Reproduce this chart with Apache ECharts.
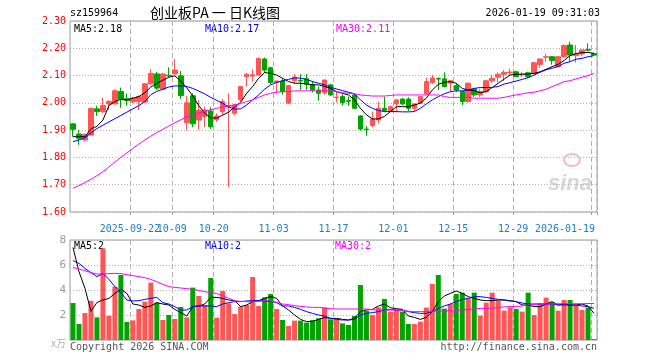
<!DOCTYPE html>
<html><head><meta charset="utf-8">
<script src="https://cdn.jsdelivr.net/npm/echarts@6/dist/echarts.min.js"></script>
<style>html,body{margin:0;padding:0;background:#fff}#c{width:660px;height:360px}</style>
</head><body><div id="c"></div>
<script>
const dates = [
'2025-09-08','2025-09-09','2025-09-10','2025-09-11','2025-09-12','2025-09-15','2025-09-16','2025-09-17','2025-09-18','2025-09-19',
'2025-09-22','2025-09-23','2025-09-24','2025-09-25','2025-09-26','2025-09-29','2025-09-30','2025-10-09','2025-10-10','2025-10-13',
'2025-10-14','2025-10-15','2025-10-16','2025-10-17','2025-10-20','2025-10-21','2025-10-22','2025-10-23','2025-10-24','2025-10-27',
'2025-10-28','2025-10-29','2025-10-30','2025-10-31','2025-11-03','2025-11-04','2025-11-05','2025-11-06','2025-11-07','2025-11-10',
'2025-11-11','2025-11-12','2025-11-13','2025-11-14','2025-11-17','2025-11-18','2025-11-19','2025-11-20','2025-11-21','2025-11-24',
'2025-11-25','2025-11-26','2025-11-27','2025-11-28','2025-12-01','2025-12-02','2025-12-03','2025-12-04','2025-12-05','2025-12-08',
'2025-12-09','2025-12-10','2025-12-11','2025-12-12','2025-12-15','2025-12-16','2025-12-17','2025-12-18','2025-12-19','2025-12-22',
'2025-12-23','2025-12-24','2025-12-25','2025-12-26','2025-12-29','2025-12-30','2025-12-31','2026-01-05','2026-01-06','2026-01-07',
'2026-01-08','2026-01-09','2026-01-12','2026-01-13','2026-01-14','2026-01-15','2026-01-16','2026-01-19'];

const tickDates = ['2025-09-22','2025-10-09','2025-10-20','2025-11-03','2025-11-17','2025-12-01','2025-12-15','2025-12-29','2026-01-19'];

const opens = [1.923,1.886,1.864,1.882,1.978,1.968,1.996,1.996,2.042,2.015,
2.004,2.005,2.003,2.070,2.106,2.050,2.101,2.106,2.099,1.927,
2.026,1.937,1.950,1.970,1.938,1.968,1.986,1.962,2.011,2.096,
2.098,2.102,2.161,2.129,2.074,2.080,1.999,2.081,2.082,2.088,
2.068,2.047,2.037,2.066,2.019,2.023,2.008,2.029,1.952,1.904,
1.917,1.937,1.980,1.972,1.996,2.014,2.014,1.980,1.999,2.033,
2.074,2.089,2.088,2.072,2.063,2.041,2.005,2.051,2.029,2.041,
2.081,2.094,2.105,2.111,2.114,2.103,2.110,2.108,2.141,2.167,
2.169,2.133,2.169,2.212,2.173,2.179,2.195,2.181];

const closes = [1.903,1.870,1.884,1.980,1.968,1.990,2.005,2.044,2.014,2.008,
2.017,2.023,2.070,2.108,2.054,2.106,2.099,2.120,2.027,2.000,
1.923,1.972,1.974,1.912,1.952,2.005,1.990,1.992,2.060,2.105,
2.103,2.163,2.120,2.075,2.080,2.041,2.063,2.094,2.080,2.068,
2.047,2.035,2.084,2.029,2.021,2.001,2.006,1.980,1.904,1.902,
1.941,1.980,1.972,1.986,2.011,1.996,1.980,1.996,2.023,2.078,
2.091,2.087,2.060,2.081,2.047,2.005,2.072,2.029,2.041,2.081,
2.090,2.105,2.112,2.113,2.096,2.105,2.096,2.147,2.161,2.169,
2.155,2.169,2.210,2.175,2.179,2.194,2.193,2.175];

const lows = [1.876,1.846,1.858,1.880,1.952,1.962,1.974,1.994,1.982,1.989,
1.998,1.974,2.000,2.066,2.047,2.048,2.094,2.104,2.014,1.900,
1.911,1.900,1.911,1.904,1.930,1.956,1.691,1.955,2.005,2.060,
2.078,2.100,2.110,2.068,2.035,2.030,1.996,2.070,2.047,2.047,
2.038,2.008,2.030,2.025,2.001,1.990,1.989,1.978,1.898,1.879,
1.910,1.925,1.966,1.966,1.965,1.992,1.970,1.970,1.996,2.029,
2.069,2.047,2.056,2.041,2.040,1.992,2.000,2.022,2.022,2.038,
2.072,2.075,2.080,2.100,2.094,2.094,2.092,2.104,2.128,2.150,
2.140,2.130,2.166,2.151,2.148,2.170,2.188,2.173];

const highs = [1.925,1.900,1.888,1.982,1.989,2.019,2.010,2.050,2.056,2.033,
2.022,2.027,2.072,2.124,2.114,2.110,2.130,2.161,2.117,2.025,
2.035,2.010,1.986,1.985,1.962,2.014,2.035,1.995,2.062,2.110,
2.123,2.166,2.166,2.132,2.082,2.090,2.066,2.105,2.105,2.105,
2.080,2.060,2.084,2.070,2.041,2.032,2.023,2.035,1.955,1.915,
1.968,2.005,2.023,1.990,2.011,2.018,2.020,1.998,2.025,2.092,
2.102,2.094,2.112,2.084,2.070,2.045,2.075,2.055,2.050,2.084,
2.102,2.112,2.120,2.125,2.118,2.114,2.114,2.150,2.163,2.180,
2.172,2.172,2.215,2.224,2.212,2.196,2.218,2.184];

const ma5 = [1.876,1.876,1.876,1.905,1.914,1.937,1.990,2.005,2.013,2.011,
2.017,2.023,2.037,2.058,2.072,2.083,2.094,2.099,2.080,2.055,
2.025,1.990,1.962,1.946,1.944,1.955,1.966,1.985,2.002,2.035,
2.060,2.090,2.111,2.108,2.102,2.090,2.078,2.072,2.072,2.069,
2.066,2.066,2.060,2.053,2.041,2.035,2.029,2.011,1.980,1.956,
1.941,1.941,1.950,1.968,1.986,1.986,1.986,1.992,1.999,2.017,
2.047,2.068,2.075,2.078,2.072,2.053,2.047,2.045,2.037,2.041,
2.056,2.072,2.087,2.102,2.105,2.105,2.106,2.108,2.114,2.123,
2.133,2.141,2.155,2.173,2.181,2.184,2.185,2.181];

const ma10 = [1.858,1.864,1.872,1.890,1.906,1.918,1.930,1.942,1.954,1.966,
1.978,1.990,2.005,2.030,2.042,2.050,2.058,2.062,2.062,2.060,
2.053,2.043,2.033,2.020,2.009,1.998,1.985,1.977,1.978,1.992,
2.011,2.029,2.050,2.066,2.075,2.081,2.086,2.092,2.090,2.086,
2.078,2.072,2.066,2.057,2.051,2.045,2.039,2.033,2.011,1.992,
1.980,1.972,1.968,1.968,1.968,1.967,1.967,1.968,1.980,1.996,
2.011,2.023,2.033,2.041,2.044,2.044,2.047,2.053,2.056,2.056,
2.057,2.060,2.069,2.074,2.080,2.086,2.092,2.102,2.112,2.121,
2.127,2.133,2.145,2.151,2.160,2.163,2.169,2.173];

const ma30 = [1.687,1.697,1.708,1.720,1.733,1.748,1.765,1.783,1.800,1.817,
1.833,1.849,1.864,1.878,1.891,1.903,1.915,1.927,1.938,1.948,
1.956,1.963,1.969,1.975,1.980,1.985,1.989,1.993,1.997,2.005,
2.011,2.020,2.029,2.035,2.039,2.041,2.041,2.044,2.044,2.044,
2.044,2.044,2.044,2.044,2.041,2.037,2.035,2.033,2.029,2.027,
2.025,2.025,2.025,2.027,2.029,2.029,2.029,2.029,2.029,2.029,
2.029,2.029,2.023,2.020,2.020,2.020,2.020,2.017,2.017,2.017,
2.017,2.017,2.020,2.025,2.029,2.033,2.037,2.039,2.044,2.050,
2.060,2.068,2.078,2.081,2.088,2.094,2.100,2.108];

const volumes = [2.96,1.28,2.16,3.13,1.81,7.33,1.93,4.27,5.2,1.45,
1.57,2.48,3.07,4.59,2.99,1.6,2.0,1.68,2.64,1.81,
4.19,3.52,2.8,4.96,1.79,3.92,2.93,2.08,2.67,2.8,
5.04,2.72,3.41,3.68,2.48,1.6,1.12,1.55,1.55,1.39,
1.6,1.73,2.61,1.65,1.65,1.33,1.2,1.92,4.4,2.32,
2.0,2.61,3.28,2.27,2.4,2.27,1.28,1.28,1.47,2.59,
4.48,5.2,2.51,2.88,3.68,3.79,3.33,3.79,1.95,2.99,
3.79,3.15,2.35,2.61,2.48,2.27,3.79,2.0,2.93,3.39,
3.01,2.35,3.2,3.2,2.75,2.4,2.59,0.06];

const volMa5 = [7.4,5.47,4.13,2.3,3.0,3.2,3.33,3.73,4.05,3.73,
2.88,2.8,2.61,2.72,2.99,2.88,2.8,2.45,2.19,1.92,
2.67,2.72,2.88,3.41,3.41,3.33,3.2,3.15,2.67,2.8,
3.07,3.15,3.33,3.47,3.33,2.72,2.4,2.0,1.65,1.47,
1.47,1.65,1.8,1.73,1.73,1.65,1.6,1.73,2.27,2.4,
2.45,2.72,2.88,2.59,2.51,2.45,1.92,1.81,1.65,1.81,
2.27,3.07,3.52,3.73,3.92,3.73,3.47,3.33,3.2,3.15,
3.15,3.2,3.2,3.15,3.07,2.8,2.8,2.67,2.67,2.88,
3.07,2.8,2.88,2.8,2.8,2.88,2.72,2.13];

const volMa10 = [6.35,6.13,5.73,5.39,5.07,5.33,4.85,4.27,3.79,3.2,
3.12,3.15,3.25,3.33,3.41,2.99,2.88,2.67,2.4,2.4,
2.67,2.72,2.72,2.72,2.67,2.88,2.99,3.07,3.07,3.12,
3.15,3.15,3.12,3.07,2.99,2.72,2.72,2.61,2.45,2.27,
2.13,2.0,1.92,1.73,1.65,1.6,1.6,1.65,2.0,2.13,
2.19,2.27,2.4,2.45,2.4,2.4,2.27,2.19,2.13,2.13,
2.27,2.53,2.72,2.88,3.07,3.25,3.33,3.47,3.47,3.41,
3.33,3.25,3.2,3.12,3.07,2.96,2.88,2.88,2.88,2.88,
2.88,2.8,2.8,2.8,2.8,2.72,2.67,2.53];

const volMa30 = [5.81,5.68,5.55,5.39,5.28,5.28,5.31,5.33,5.31,5.23,
5.15,5.07,4.99,4.85,4.67,4.45,4.27,4.21,4.16,4.11,
4.05,3.97,3.87,3.79,3.71,3.55,3.33,3.15,3.09,3.07,
3.07,3.09,3.15,3.12,3.01,2.88,2.83,2.75,2.69,2.64,
2.61,2.61,2.55,2.5,2.48,2.48,2.48,2.48,2.48,2.48,
2.42,2.4,2.4,2.4,2.4,2.38,2.3,2.27,2.27,2.27,
2.3,2.32,2.32,2.33,2.35,2.4,2.45,2.5,2.53,2.53,
2.55,2.6,2.65,2.67,2.69,2.72,2.8,2.86,2.88,2.88,
2.88,2.9,2.9,2.9,2.9,2.9,2.92,2.92];

const RED = '#ff5555', GREEN = '#00a400';
const MONO = '"DejaVu Sans Mono", "Liberation Mono", monospace';
const last = dates.length - 1;

const isTick = (i, v) => tickDates.indexOf(v) >= 0;
function dateLabel(v) {
  const k = tickDates.indexOf(v);
  if (k < 0) return '';
  const prev = k > 0 ? tickDates[k-1].slice(0,4) : null;
  const txt = (k === 0 || prev !== v.slice(0,4)) ? v : v.slice(5);
  return (v === dates[last] ? '{z|' : '{a|') + txt + '}';
}

const chart = echarts.init(document.getElementById('c'), null, {renderer: 'canvas'});
const splitX = {show: true, interval: isTick, lineStyle: {color: '#b0b0b0', width: 1, type: [5, 3]}};
const dotY = {show: true, lineStyle: {color: '#b4b4b4', width: 1, type: [1, 2]}};
const lineS = (data, color, xi, yi) => ({type: 'line', data, xAxisIndex: xi, yAxisIndex: yi, symbol: 'none',
  lineStyle: {color, width: 1}, itemStyle: {color}, silent: true, z: 5});

chart.setOption({
  animation: false,
  backgroundColor: '#fff',
  grid: [
    {left: 70, top: 21, width: 527, height: 191, show: true, borderColor: '#9a9a9a', borderWidth: 1},
    {left: 70, top: 240, width: 527, height: 100, show: true, borderColor: '#9a9a9a', borderWidth: 1}
  ],
  xAxis: [
    {type: 'category', gridIndex: 0, data: dates, boundaryGap: true,
     axisLine: {show: false},
     axisTick: {show: true, interval: isTick, length: 3, lineStyle: {color: '#9a9a9a'}},
     axisLabel: {interval: 0, formatter: dateLabel, margin: 12, color: '#1a7fd0', fontFamily: MONO, fontSize: 10,
       hideOverlap: false,
       rich: {
         a: {color: '#1a7fd0', fontFamily: MONO, fontSize: 10, padding: [0, 6, 0, 0]},
         z: {color: '#1a7fd0', fontFamily: MONO, fontSize: 10, padding: [0, 58, 0, 0]}
       }},
     splitLine: splitX},
    {type: 'category', gridIndex: 1, data: dates, boundaryGap: true,
     axisLine: {show: false}, axisTick: {show: false}, axisLabel: {show: false},
     splitLine: splitX}
  ],
  yAxis: [
    {type: 'value', gridIndex: 0, min: 1.6, max: 2.3, interval: 0.1,
     axisLine: {show: false}, axisTick: {show: false},
     axisLabel: {color: '#ff0000', fontFamily: MONO, fontSize: 10, margin: 4, formatter: v => v.toFixed(2)},
     splitLine: dotY},
    {type: 'value', gridIndex: 1, min: 0, max: 8, interval: 2,
     axisLine: {show: false}, axisTick: {show: false},
     axisLabel: {color: '#999', fontFamily: MONO, fontSize: 11, margin: 4, formatter: v => v === 0 ? '' : String(v)},
     splitLine: dotY}
  ],
  series: [
    {type: 'candlestick', xAxisIndex: 0, yAxisIndex: 0, barWidth: 5,
     data: dates.map((d, i) => [opens[i], closes[i], lows[i], highs[i]]),
     itemStyle: {color: RED, color0: GREEN, borderColor: RED, borderColor0: GREEN, borderWidth: 1}, z: 3},
    lineS(ma5, '#000000', 0, 0),
    lineS(ma10, '#0000ff', 0, 0),
    lineS(ma30, '#ff00ff', 0, 0),
    {type: 'bar', xAxisIndex: 1, yAxisIndex: 1, barWidth: 5,
     data: volumes.map((v, i) => ({value: v, itemStyle: {color: closes[i] >= opens[i] ? RED : GREEN}})), z: 3},
    lineS(volMa5, '#000000', 1, 1),
    lineS(volMa10, '#0000ff', 1, 1),
    lineS(volMa30, '#ff00ff', 1, 1)
  ],
  graphic: [
    {type: 'text', x: 70, y: 13, style: {text: 'sz159964', font: '10px ' + MONO, fill: '#000', textVerticalAlign: 'middle'}},
    {type: 'text', x: 215, y: 13, style: {text: '创业板PA 一 日K线图', font: '14px "Noto Sans CJK SC"', fill: '#000', textAlign: 'center', textVerticalAlign: 'middle'}},
    {type: 'text', x: 600, y: 13, style: {text: '2026-01-19 09:31:03', font: '10px ' + MONO, fill: '#000', textAlign: 'right', textVerticalAlign: 'middle'}},
    {type: 'text', x: 74, y: 29, style: {text: 'MA5:' + ma5[last].toFixed(2), font: '10px ' + MONO, fill: '#000', textVerticalAlign: 'middle'}},
    {type: 'text', x: 205, y: 29, style: {text: 'MA10:' + ma10[last].toFixed(2), font: '10px ' + MONO, fill: '#0000ff', textVerticalAlign: 'middle'}},
    {type: 'text', x: 336, y: 29, style: {text: 'MA30:' + ma30[last].toFixed(2), font: '10px ' + MONO, fill: '#ff00ff', textVerticalAlign: 'middle'}},
    {type: 'text', x: 74, y: 246, style: {text: 'MA5:' + Math.floor(volMa5[last]), font: '10px ' + MONO, fill: '#000', textVerticalAlign: 'middle'}},
    {type: 'text', x: 205, y: 246, style: {text: 'MA10:' + Math.floor(volMa10[last]), font: '10px ' + MONO, fill: '#0000ff', textVerticalAlign: 'middle'}},
    {type: 'text', x: 335, y: 246, style: {text: 'MA30:' + Math.floor(volMa30[last]), font: '10px ' + MONO, fill: '#ff00ff', textVerticalAlign: 'middle'}},
    {type: 'text', x: 66, y: 343, style: {text: 'x万', font: '10px "Noto Sans CJK SC"', fill: '#b0b0b0', textAlign: 'right', textVerticalAlign: 'middle'}},
    {type: 'text', x: 70, y: 347, style: {text: 'Copyright 2026 SINA.COM', font: '10px ' + MONO, fill: '#555', textVerticalAlign: 'middle'}},
    {type: 'text', x: 597, y: 347, style: {text: 'http://finance.sina.com.cn', font: '10px ' + MONO, fill: '#555', textAlign: 'right', textVerticalAlign: 'middle'}},
    {type: 'ellipse', shape: {cx: 572, cy: 160, rx: 8, ry: 6}, style: {fill: 'none', stroke: '#f4bcbc', lineWidth: 2}, z: 0},
    {type: 'text', x: 570, y: 184, style: {text: 'sina', font: 'italic bold 22px "Liberation Sans"', fill: '#d6d6d6', textAlign: 'center', textVerticalAlign: 'middle'}, z: 0}
  ]
});
</script>
</body></html>
